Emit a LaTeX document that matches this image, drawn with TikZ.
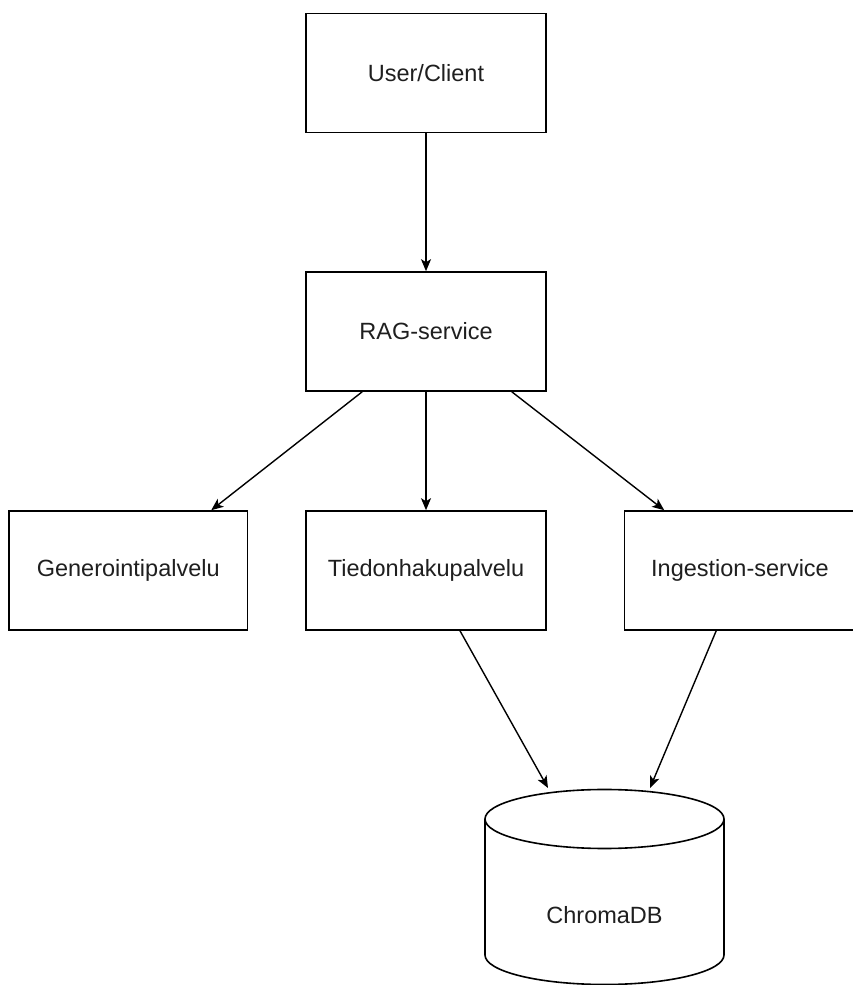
\documentclass[tikz,border=0pt]{standalone}
\usepackage{fontspec}
\setmainfont{Liberation Sans}
\usetikzlibrary{arrows.meta}
\begin{document}
\begin{tikzpicture}[x=1pt,y=1pt,
  box/.style={draw=black,line width=1.6pt,fill=white,minimum width=240pt,minimum height=119pt,inner sep=0pt,font=\fontsize{23.5}{28}\selectfont,text=black!88},
  conn/.style={line width=1.4pt,-{Stealth[length=12pt,width=10pt,inset=3pt]}},
  lbl/.style={font=\fontsize{23.5}{28}\selectfont,text=black!88,inner sep=0pt}]
\useasboundingbox (0,0) rectangle (853,985);
\clip (0,0) rectangle (853,985);
\node[box] (user) at (426,912) {User/Client};
\node[box] (rag) at (426,653.5) {RAG-service};
\node[box,minimum width=238.5pt] (gen) at (128.25,414.5) {Generointipalvelu};
\node[box] (tied) at (426,414.5) {Tiedonhakupalvelu};
\node[box,minimum width=239pt] (ing) at (744,414.5) {};
\node[lbl] (ingtext) at (740,414.5) {Ingestion-service};
% cylinder
\draw[line width=1.6pt,fill=white] (485,166) -- (485,30) arc[start angle=180,end angle=360,x radius=119.5,y radius=29.5] -- (724,166);
\draw[line width=1.6pt] (604.5,166) ellipse[x radius=119.5,y radius=29.5];
\node[lbl] (db) at (604.5,70) {ChromaDB};
\coordinate (dbl) at (548,197);
\coordinate (dbr) at (650,197);
% connectors
\draw[conn] (user.south) -- (rag.north);
\draw[conn] ([xshift=57pt]rag.south west) -- ([xshift=83pt]gen.north);
\draw[conn] (rag.south) -- (tied.north);
\draw[conn] ([xshift=-35pt]rag.south east) -- ([xshift=40.5pt]ing.north west);
\draw[conn] ([xshift=34pt]tied.south) -- (dbl);
\draw[conn] ([xshift=92.5pt]ing.south west) -- (dbr);
\end{tikzpicture}
\end{document}
